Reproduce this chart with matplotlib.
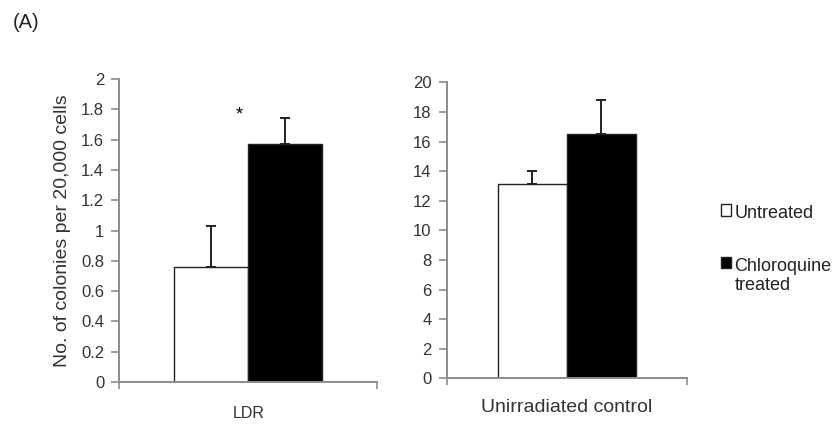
import matplotlib.pyplot as plt
from matplotlib.patches import Rectangle

plt.rcParams['font.family'] = ['Liberation Sans', 'DejaVu Sans']

# data
groups = ['Untreated', 'Chloroquine\ntreated']
group_colors = ['white', 'black']
panel_names = ['LDR', 'Unirradiated control']
untreated = [0.76, 13.15]
untreated_err = [0.27, 0.85]
chloroquine = [1.57, 16.5]
chloroquine_err = [0.17, 2.3]
ymax = [2, 20]
ystep = [0.2, 2]
ytick_labels = [['0', '0.2', '0.4', '0.6', '0.8', '1', '1.2', '1.4', '1.6', '1.8', '2'],
                ['0', '2', '4', '6', '8', '10', '12', '14', '16', '18', '20']]

W, H = 835, 424
fig = plt.figure(figsize=(W / 100, H / 100), dpi=100)
ax1 = fig.add_axes([0.143, 0.099, 0.3085, 0.7146])
ax2 = fig.add_axes([0.535, 0.1078, 0.2878, 0.698])
axes = [ax1, ax2]

w = 0.5
gray = '#8c8c8c'
for i, ax in enumerate(axes):
    ax.bar(-w / 2, untreated[i], width=w, color=group_colors[0], edgecolor='#222222', lw=1.0, zorder=2)
    ax.bar(w / 2, chloroquine[i], width=w, color=group_colors[1], edgecolor='#222222', lw=1.0, zorder=2)
    ax.errorbar([-w / 2, w / 2], [untreated[i], chloroquine[i]],
                yerr=[[0, 0], [untreated_err[i], chloroquine_err[i]]],
                fmt='none', ecolor='#222222', elinewidth=1.4, capsize=3.5, capthick=1.4, zorder=3)
    ax.set_ylim(0, ymax[i])
    ax.set_xlim(-0.87, 0.87)
    ax.set_yticks([k * ystep[i] for k in range(11)], labels=ytick_labels[i])
    ax.set_xticks([0], labels=[panel_names[i]])
    ax.set_xticks([-0.87, 0.87], minor=True)
    ax.tick_params(axis='x', which='major', length=0)
    ax.tick_params(axis='x', which='minor', length=5, width=1.2, color=gray, direction='out')
    ax.tick_params(axis='y', length=6, width=1.2, color=gray, direction='out', labelsize=12,
                   labelcolor='#333333', pad=5)
    for s in ['top', 'right']:
        ax.spines[s].set_visible(False)
    for s in ['left', 'bottom']:
        ax.spines[s].set_color(gray)
        ax.spines[s].set_linewidth(1.4)

ax1.tick_params(axis='x', labelsize=11.5, pad=17, labelcolor='#333333')
ax2.tick_params(axis='x', labelsize=14, pad=15, labelcolor='#333333')
ax1.set_ylabel('No. of colonies per 20,000 cells', fontsize=14, color='#333333', labelpad=7)
ax1.text(-0.06, 1.76, '*', ha='center', va='center', fontsize=13)

fig.text(13 / W, 1 - 22 / H, '(A)', fontsize=14.5, va='center', color='#222222')

# legend drawn by hand so the box sits on the first line of each label
box_tops = [204, 256.5]
last_baselines = [218, 290]
for g, c, top, base in zip(groups, group_colors, box_tops, last_baselines):
    fig.patches.append(Rectangle((720.5 / W, 1 - (top + 11.5) / H), 10 / W, 11.5 / H,
                                 transform=fig.transFigure, facecolor=c,
                                 edgecolor='#222222', lw=1.0))
    fig.text(734.5 / W, 1 - base / H, g, fontsize=13, va='baseline', ha='left',
             color='#222222', linespacing=1.15)

fig.savefig('out.png', dpi=100)
